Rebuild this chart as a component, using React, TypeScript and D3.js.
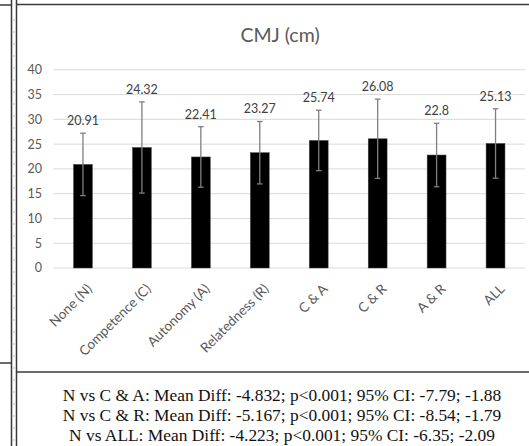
import React, { useEffect, useRef } from "react";
import * as d3 from "d3";

// データ
const categories = [
  "None (N)",
  "Competence (C)",
  "Autonomy (A)",
  "Relatedness (R)",
  "C & A",
  "C & R",
  "A & R",
  "ALL",
];
const means = [20.91, 24.32, 22.41, 23.27, 25.74, 26.08, 22.8, 25.13];
const sds = [6.3, 9.2, 6.1, 6.3, 6.1, 8.0, 6.4, 7.0];
const yTicks = [0, 5, 10, 15, 20, 25, 30, 35, 40];
const chartTitle = "CMJ (cm)";
const notes = [
  "N vs C & A: Mean Diff: -4.832; p<0.001; 95% CI: -7.79; -1.88",
  "N vs C & R: Mean Diff: -5.167; p<0.001; 95% CI: -8.54; -1.79",
  "N vs ALL: Mean Diff: -4.223; p<0.001; 95% CI: -6.35; -2.09",
];

const W = 529;
const H = 446;
const CALIBRI = "Lato, 'Open Sans', sans-serif";

export default function App() {
  const svgRef = useRef<SVGSVGElement>(null);

  useEffect(() => {
    if (!svgRef.current) return;
    const svg = d3.select(svgRef.current);
    svg.selectAll("*").remove();

    svg.append("rect").attr("width", W).attr("height", H).attr("fill", "#fff");

    // 枠線（左パネルとチャート枠）
    const frame = svg.append("g").attr("stroke", "#3a3a3a").attr("fill", "none");
    frame.append("line").attr("x1", 11.5).attr("x2", 11.5).attr("y1", 0).attr("y2", H).attr("stroke-width", 1.5);
    frame.append("line").attr("x1", 0).attr("x2", 11.5).attr("y1", 5).attr("y2", 5).attr("stroke-width", 1.5);
    frame.append("line").attr("x1", 0).attr("x2", 11.5).attr("y1", 363).attr("y2", 363).attr("stroke-width", 1.5);
    frame.append("line").attr("x1", 16.5).attr("x2", 16.5).attr("y1", 0).attr("y2", H).attr("stroke-width", 1.5);
    frame.append("line").attr("x1", 16.5).attr("x2", W).attr("y1", 4.5).attr("y2", 4.5).attr("stroke-width", 1.5);
    frame.append("line").attr("x1", 16.5).attr("x2", W).attr("y1", 372).attr("y2", 372).attr("stroke-width", 1.5);

    // 小さな目盛り（ルーラー風）
    d3.range(20, H, 12).forEach((y) => {
      svg.append("line").attr("x1", 13).attr("x2", 15).attr("y1", y).attr("y2", y)
        .attr("stroke", "#bbb").attr("stroke-width", 1);
    });

    // スケール
    const x = d3
      .scaleBand<string>()
      .domain(categories)
      .range([53.5, 525])
      .paddingInner(0.68)
      .paddingOuter(0.34);
    const y = d3.scaleLinear().domain([0, 40]).range([268, 69.8]);

    // グリッド線
    svg.append("g")
      .selectAll("line")
      .data(yTicks)
      .join("line")
      .attr("x1", 53.5)
      .attr("x2", 525)
      .attr("y1", (d) => y(d))
      .attr("y2", (d) => y(d))
      .attr("stroke", "#d9d9d9")
      .attr("stroke-width", 1);

    // Y軸ラベル
    svg.append("g")
      .selectAll("text")
      .data(yTicks)
      .join("text")
      .attr("x", 42)
      .attr("y", (d) => y(d))
      .attr("dy", "0.35em")
      .attr("text-anchor", "end")
      .attr("font-family", CALIBRI)
      .attr("font-size", 12.5)
      .attr("fill", "#595959")
      .text((d) => d);

    // 棒
    svg.append("g")
      .selectAll("rect")
      .data(means)
      .join("rect")
      .attr("x", (_, i) => x(categories[i])!)
      .attr("width", x.bandwidth())
      .attr("y", (d) => y(d))
      .attr("height", (d) => y(0) - y(d))
      .attr("fill", "#000")
      .attr("stroke", "#444")
      .attr("stroke-width", 0.5);

    // エラーバー
    const eb = svg.append("g").attr("stroke", "#7f7f7f").attr("stroke-width", 1.3);
    means.forEach((m, i) => {
      const cx = x(categories[i])! + x.bandwidth() / 2;
      const top = y(m + sds[i]);
      const bot = y(m - sds[i]);
      eb.append("line").attr("x1", cx).attr("x2", cx).attr("y1", top).attr("y2", bot);
      eb.append("line").attr("x1", cx - 2.8).attr("x2", cx + 2.8).attr("y1", top).attr("y2", top);
      eb.append("line").attr("x1", cx - 2.8).attr("x2", cx + 2.8).attr("y1", bot).attr("y2", bot);
    });

    // 値ラベル
    svg.append("g")
      .selectAll("text")
      .data(means)
      .join("text")
      .attr("x", (_, i) => x(categories[i])! + x.bandwidth() / 2)
      .attr("y", (d, i) => y(d + sds[i]) - 8)
      .attr("text-anchor", "middle")
      .attr("font-family", CALIBRI)
      .attr("font-size", 12.5)
      .attr("fill", "#404040")
      .text((d) => String(d));

    // X軸ラベル（45度回転）
    svg.append("g")
      .selectAll("text")
      .data(categories)
      .join("text")
      .attr(
        "transform",
        (d) => `translate(${x(d)! + x.bandwidth() / 2 + 3},${283}) rotate(-45)`
      )
      .attr("text-anchor", "end")
      .attr("dy", "0.71em")
      .attr("font-family", CALIBRI)
      .attr("font-size", 13.5)
      .attr("fill", "#595959")
      .text((d) => d);

    // タイトル
    svg.append("text")
      .attr("x", 280)
      .attr("y", 42)
      .attr("text-anchor", "middle")
      .attr("font-family", CALIBRI)
      .attr("font-size", 19.5)
      .attr("fill", "#595959")
      .text(chartTitle);

    // 下の注記
    svg.append("g")
      .selectAll("text")
      .data(notes)
      .join("text")
      .attr("x", 282)
      .attr("y", (_, i) => 401 + i * 20)
      .attr("text-anchor", "middle")
      .attr("font-family", "'Liberation Serif', 'Times New Roman', serif")
      .attr("font-size", 17.4)
      .attr("fill", "#111")
      .text((d) => d);
  }, []);

  return (
    <svg
      ref={svgRef}
      width={W}
      height={H}
      style={{ position: "absolute", left: 0, top: 0, display: "block" }}
    />
  );
}
